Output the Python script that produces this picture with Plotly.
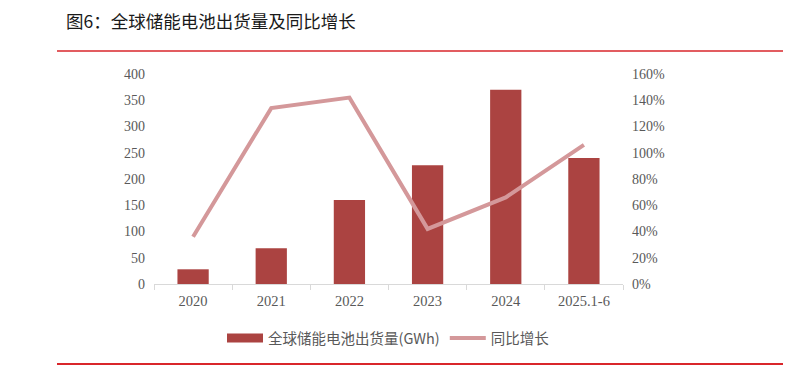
import plotly.graph_objects as go

categories = ["2020", "2021", "2022", "2023", "2024", "2025.1-6"]
shipments_gwh = [28, 68, 160, 226, 370, 240]
yoy_growth_pct = [36, 134, 142, 42, 66, 106]

serif = "Liberation Serif, DejaVu Serif, Noto Sans CJK SC, serif"
tick_color = "#595959"
bar_color = "#ab4341"
line_color = "#d4989a"

# page body has an 8px margin, so figure is offset by (8, 8)
W, H = 783, 361
L, R, T, B = 146, 615, 66, 276

fig = go.Figure()
fig.add_trace(go.Bar(
    x=categories, y=shipments_gwh, name="全球储能电池出货量(GWh)",
    marker=dict(color=bar_color, line=dict(width=0)), width=0.4, yaxis="y",
    showlegend=False,
))
# legend-only entry drawn as a wide rectangle like the reference
fig.add_trace(go.Scatter(
    x=[categories[0]], y=[None], name="全球储能电池出货量(GWh)", mode="lines",
    line=dict(color=bar_color, width=9), yaxis="y", hoverinfo="skip",
))
fig.add_trace(go.Scatter(
    x=categories, y=yoy_growth_pct, name="同比增长", mode="lines",
    line=dict(color=line_color, width=4), yaxis="y2",
))

pw, ph = R - L, B - T

fig.update_layout(
    width=W, height=H,
    margin=dict(l=L, r=W - R, t=T, b=H - B),
    paper_bgcolor="white", plot_bgcolor="white",
    font=dict(family=serif, size=14, color=tick_color),
    title=dict(text="图6：全球储能电池出货量及同比增长", x=(66 - 8) / W, xanchor="left",
               y=1 - (22 - 8) / H, yanchor="middle",
               font=dict(family="Noto Sans CJK SC, sans-serif", size=17.5, color="#1a1a1a")),
    xaxis=dict(type="category", showgrid=False, showline=True, linecolor="#d9d9d9",
               linewidth=1, ticks="outside", tickson="boundaries", ticklen=5,
               tickcolor="#d9d9d9", ticklabelstandoff=4,
               tickfont=dict(family=serif, size=14.5, color=tick_color)),
    yaxis=dict(range=[0, 400], dtick=50, showgrid=False, zeroline=False, showline=False,
               ticklabelstandoff=8,
               tickfont=dict(family=serif, size=14, color=tick_color)),
    yaxis2=dict(range=[0, 160], dtick=20, overlaying="y", side="right", ticksuffix="%",
                showgrid=False, zeroline=False, showline=False, ticklabelstandoff=8,
                tickfont=dict(family=serif, size=14, color=tick_color)),
    legend=dict(orientation="h", x=0.5, xanchor="center", y=(B - (338 - 8)) / ph, yanchor="middle",
                itemwidth=36,
                font=dict(family="Noto Sans CJK SC, serif", size=14.5, color=tick_color)),
    shapes=[
        dict(type="line", xref="paper", yref="paper", x0=(57 - 8 - L) / pw, x1=(W - L) / pw,
             y0=(B - (51 - 8)) / ph, y1=(B - (51 - 8)) / ph, line=dict(color="#d9262b", width=1.5)),
        dict(type="line", xref="paper", yref="paper", x0=(57 - 8 - L) / pw, x1=(W - L) / pw,
             y0=(B - (364 - 8)) / ph, y1=(B - (364 - 8)) / ph, line=dict(color="#d9262b", width=2)),
    ],
)

fig.write_html("out.html")
